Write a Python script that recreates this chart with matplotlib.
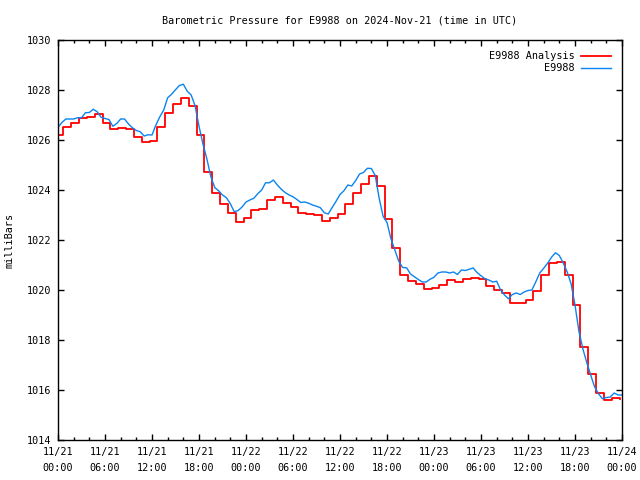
import numpy as np
import matplotlib
matplotlib.use("Agg")
import matplotlib.pyplot as plt
from matplotlib.ticker import MultipleLocator

# -------------------------------
# Data (hours since 2024-11-21 00:00 UTC)
# -------------------------------
analysis_hours = np.arange(0, 73)
analysis_mb = [
    1026.20, 1026.53, 1026.67, 1026.87, 1026.93, 1027.03, 1026.67, 1026.44,
    1026.50, 1026.44, 1026.13, 1025.91, 1025.95, 1026.53, 1027.07, 1027.45,
    1027.67, 1027.37, 1026.20, 1024.73, 1023.87, 1023.44, 1023.07, 1022.73,
    1022.87, 1023.20, 1023.24, 1023.60, 1023.73, 1023.47, 1023.31, 1023.09,
    1023.04, 1023.00, 1022.77, 1022.87, 1023.04, 1023.44, 1023.89, 1024.24,
    1024.56, 1024.16, 1022.83, 1021.67, 1020.60, 1020.36, 1020.23, 1020.05,
    1020.08, 1020.19, 1020.39, 1020.32, 1020.44, 1020.47, 1020.44, 1020.16,
    1020.00, 1019.87, 1019.49, 1019.49, 1019.60, 1019.97, 1020.60, 1021.09,
    1021.13, 1020.60, 1019.40, 1017.73, 1016.63, 1015.87, 1015.60, 1015.67,
    1015.65,
]

station_hours = np.arange(0, 72.5, 0.5)
station_mb = [
    1026.51, 1026.70, 1026.84, 1026.84, 1026.84, 1026.89, 1026.89, 1027.09,
    1027.10, 1027.23, 1027.13, 1026.91, 1026.86, 1026.82, 1026.55, 1026.66,
    1026.84, 1026.84, 1026.64, 1026.49, 1026.38, 1026.33, 1026.16, 1026.21,
    1026.20, 1026.60, 1026.93, 1027.20, 1027.69, 1027.83, 1028.01, 1028.18,
    1028.23, 1027.95, 1027.80, 1027.37, 1026.55, 1025.85, 1025.25, 1024.55,
    1024.10, 1023.97, 1023.80, 1023.69, 1023.45, 1023.13, 1023.18, 1023.32,
    1023.52, 1023.60, 1023.67, 1023.85, 1024.00, 1024.29, 1024.29, 1024.40,
    1024.20, 1024.03, 1023.90, 1023.80, 1023.73, 1023.62, 1023.50, 1023.52,
    1023.47, 1023.40, 1023.35, 1023.29, 1023.09, 1023.04, 1023.30, 1023.55,
    1023.82, 1023.97, 1024.20, 1024.16, 1024.38, 1024.64, 1024.70, 1024.87,
    1024.86, 1024.58, 1023.67, 1022.95, 1022.70, 1022.05, 1021.60, 1021.15,
    1020.90, 1020.89, 1020.64, 1020.53, 1020.42, 1020.32, 1020.32, 1020.43,
    1020.51, 1020.68, 1020.72, 1020.72, 1020.68, 1020.72, 1020.62, 1020.80,
    1020.78, 1020.83, 1020.88, 1020.70, 1020.57, 1020.45, 1020.40, 1020.32,
    1020.35, 1020.00, 1019.80, 1019.65, 1019.82, 1019.88, 1019.82, 1019.92,
    1019.98, 1020.00, 1020.33, 1020.68, 1020.87, 1021.07, 1021.31, 1021.49,
    1021.38, 1021.08, 1020.72, 1020.25, 1019.40, 1018.35, 1017.65, 1017.10,
    1016.60, 1016.13, 1015.85, 1015.65, 1015.70, 1015.72, 1015.88, 1015.80,
    1015.80,
]

tick_hours = np.arange(0, 73, 6)
tick_labels = ["11/21\n00:00", "11/21\n06:00", "11/21\n12:00", "11/21\n18:00",
               "11/22\n00:00", "11/22\n06:00", "11/22\n12:00", "11/22\n18:00",
               "11/23\n00:00", "11/23\n06:00", "11/23\n12:00", "11/23\n18:00",
               "11/24\n00:00"]

# -------------------------------
# Plot (gnuplot look)
# -------------------------------
plt.rcParams['font.family'] = ['DejaVu Sans Mono']
plt.rcParams['font.size'] = 7.3

fig = plt.figure(figsize=(6.4, 4.8), dpi=100)
ax = fig.add_axes([58 / 640, 40 / 480, 564 / 640, 400 / 480])

# analysis steps change roughly 20 min before the hour mark
ax.step(analysis_hours - 0.3, analysis_mb, where='post', color='#ff0000',
        lw=1.3, label='E9988 Analysis')
ax.plot(station_hours, station_mb, color='#0a84f0', lw=1.0, label='E9988')

ax.set_xlim(0, 72)
ax.set_ylim(1014, 1030)
ax.set_xticks(tick_hours)
ax.set_xticklabels(tick_labels, linespacing=1.75)
ax.xaxis.set_minor_locator(MultipleLocator(2))
ax.yaxis.set_major_locator(MultipleLocator(2))
ax.tick_params(which='both', direction='in', top=True, right=True,
               width=1, colors='black', labelsize=7.3)
ax.tick_params(which='major', length=4.5, pad=5)
ax.tick_params(which='minor', length=2.5)
for s in ax.spines.values():
    s.set_linewidth(1)

ax.set_ylabel("milliBars", fontsize=7.3, labelpad=9)
ax.set_title("Barometric Pressure for E9988 on 2024-Nov-21 (time in UTC)",
             fontsize=7.3, pad=12)

ax.legend(loc='upper right', frameon=False, markerfirst=False,
          fontsize=7.3, handlelength=2.9, handletextpad=0.7,
          borderaxespad=0.7, labelspacing=0.2)

fig.savefig("out.png", dpi=100)
